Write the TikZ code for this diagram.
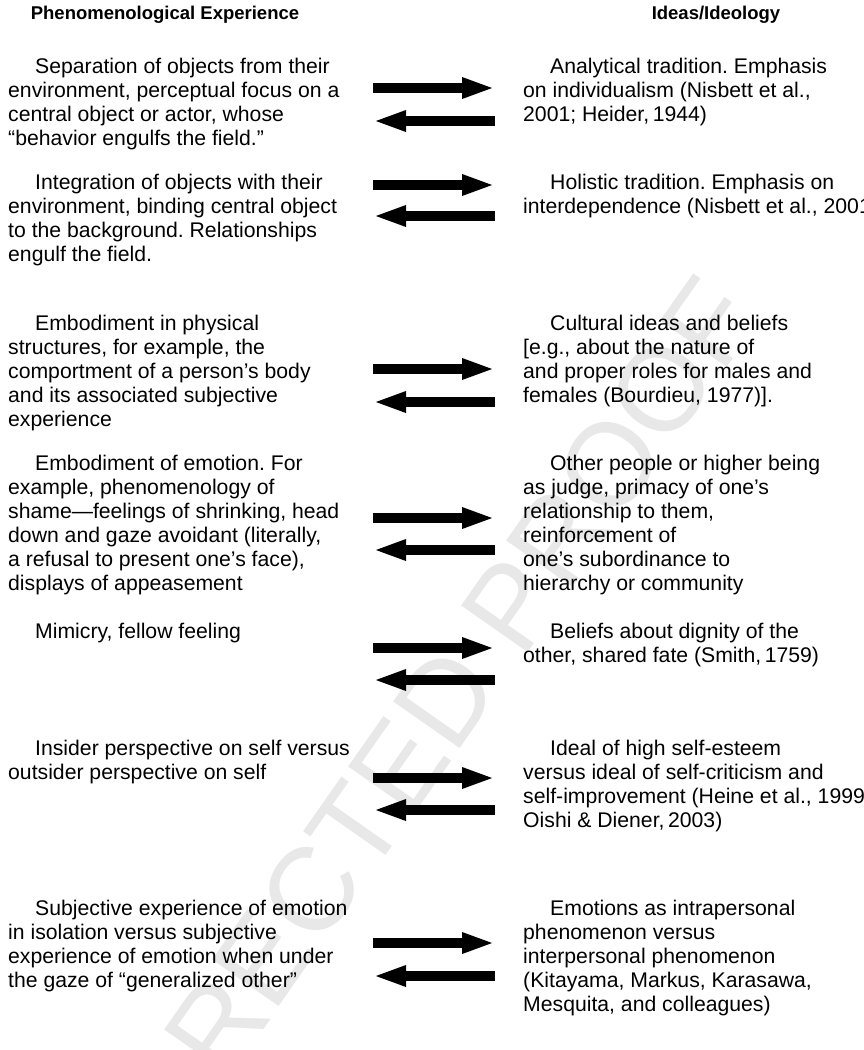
\documentclass[tikz,border=0pt]{standalone}
\usepackage{fontspec}
\setmainfont{Liberation Sans}
\usetikzlibrary{arrows.meta}
% first line of a block: fixed height and indent
\newcommand{\firstln}{\rule{0pt}{17pt}\hspace*{27pt}}
\begin{document}
\frenchspacing
\begin{tikzpicture}[x=1pt, y=-1pt,
    phen/.style = {anchor=north west, align=left, inner sep=0pt, font=\fontsize{21.2}{24}\selectfont},
    idea/.style = {anchor=north west, align=left, inner sep=0pt, font=\fontsize{21.2}{24}\selectfont},
    head/.style = {anchor=base, inner sep=0pt, font=\fontsize{18.5}{22}\selectfont\bfseries},
    proofmark/.style = {anchor=base east, inner sep=0pt, rotate=55, text=black!9, font=\fontsize{118}{118}\selectfont},
    fwd/.style = {line width=10pt, -{Triangle[length=33pt, width=19pt]}},
    bwd/.style = {line width=10pt, {Triangle[length=33pt, width=19pt]}-}]
	\useasboundingbox (0,0) rectangle (864,1050);
	\clip (0,0) rectangle (864,1050);
	% watermark
	\node[proofmark] (wm) at (763,316) {UNCORRECTED PROOF};
	% column heads
	\node[head] (hphen) at (165,19) {Phenomenological Experience};
	\node[head] (hidea) at (716,19) {Ideas/Ideology};
	% left column
	\node[phen] (phen1) at (8,56) {\firstln Separation of objects from their\\environment, perceptual focus on a\\central object or actor, whose\\“behavior engulfs the field.”};
	\node[phen] (phen2) at (8,172) {\firstln Integration of objects with their\\environment, binding central object\\to the background. Relationships\\engulf the field.};
	\node[phen] (phen3) at (8,313) {\firstln Embodiment in physical\\structures, for example, the\\comportment of a person’s body\\and its associated subjective\\experience};
	\node[phen] (phen4) at (8,453) {\firstln Embodiment of emotion. For\\example, phenomenology of\\shame—feelings of shrinking, head\\down and gaze avoidant (literally,\\a refusal to present one’s face),\\displays of appeasement};
	\node[phen] (phen5) at (8,621) {\firstln Mimicry, fellow feeling};
	\node[phen] (phen6) at (8,738) {\firstln Insider perspective on self versus\\outsider perspective on self};
	\node[phen] (phen7) at (8,898) {\firstln Subjective experience of emotion\\in isolation versus subjective\\experience of emotion when under\\the gaze of “generalized other”};
	% right column
	\node[idea] (idea1) at (523,56) {\firstln Analytical tradition. Emphasis\\on individualism (Nisbett et al.,\\2001; Heider,\,1944)};
	\node[idea] (idea2) at (523,172) {\firstln Holistic tradition. Emphasis on\\interdependence (Nisbett et al., 2001)};
	\node[idea] (idea3) at (523,313) {\firstln Cultural ideas and beliefs\\{[}e.g., about the nature of\\and proper roles for males and\\females (Bourdieu, 1977)].};
	\node[idea] (idea4) at (523,453) {\firstln Other people or higher being\\as judge, primacy of one’s\\relationship to them,\\reinforcement of\\one’s subordinance to\\hierarchy or community};
	\node[idea] (idea5) at (523,621) {\firstln Beliefs about dignity of the\\other, shared fate (Smith,\,1759)};
	\node[idea] (idea6) at (523,738) {\firstln Ideal of high self-esteem\\versus ideal of self-criticism and\\self-improvement (Heine et al., 1999;\\Oishi \& Diener,\,2003)};
	\node[idea] (idea7) at (523,898) {\firstln Emotions as intrapersonal\\phenomenon versus\\interpersonal phenomenon\\(Kitayama, Markus, Karasawa,\\Mesquita, and colleagues)};
	% arrow pairs
	\foreach \i/\ya/\yb in {1/88/121, 2/185/216, 3/369/402, 4/518/550, 5/648/680, 6/778/810, 7/943/976} {
		\coordinate (fa\i) at (373,\ya);
		\coordinate (fb\i) at (495,\ya);
		\coordinate (ba\i) at (373,\yb);
		\coordinate (bb\i) at (495,\yb);
		\draw[fwd] (fa\i) -- (fb\i);
		\draw[bwd] (ba\i) -- (bb\i);
	}
\end{tikzpicture}
\end{document}
